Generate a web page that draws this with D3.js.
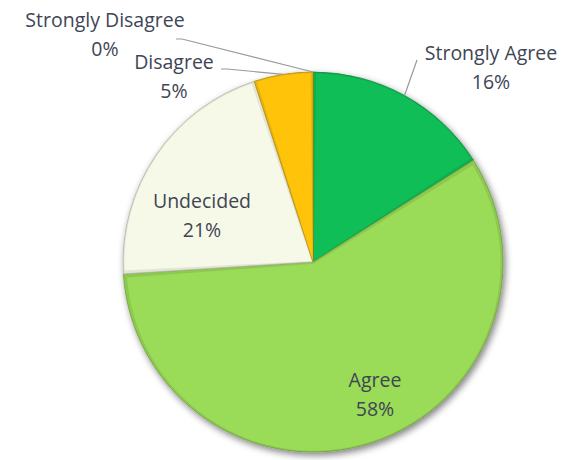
<!DOCTYPE html>
<html><head><meta charset="utf-8">
<script src="https://cdn.jsdelivr.net/npm/d3@7"></script>
<style>
html,body{margin:0;padding:0;background:#fff;}
svg{display:block;}
text{font-family:"Open Sans","Lato",sans-serif;fill:#3e4555;}
</style></head>
<body>
<svg id="chart" width="569" height="460"></svg>
<script>
// ---- data ----
const categories = ["Strongly Agree", "Agree", "Undecided", "Disagree", "Strongly Disagree"];
const values = [16, 58, 21, 5, 0];
const percentLabels = ["16%", "58%", "21%", "5%", "0%"];
const colors = ["#10BE57", "#9ADB57", "#F7F9E8", "#FFC409", "#7F7F7F"];

// ---- layout ----
const cx = 313, cy = 262, R = 190;
const labelLayout = [
  {x: 491, y: 60, leader: true, elbow: [417, 60]},
  {x: 375, y: 387, leader: false},
  {x: 202, y: 208, leader: false},
  {x: 174, y: 69, leader: true, elbow: [221, 69], textEnd: true},
  {x: 105, y: 27, leader: true, elbow: [176, 39], textEnd: true}
];
const lineGap = 29;

const svg = d3.select("#chart");
const defs = svg.append("defs");

const shadow = defs.append("filter").attr("id","shadow")
  .attr("x","-20%").attr("y","-20%").attr("width","140%").attr("height","140%");
shadow.append("feGaussianBlur").attr("in","SourceAlpha").attr("stdDeviation",3.5).attr("result","b");
shadow.append("feOffset").attr("in","b").attr("dx",2).attr("dy",3).attr("result","o");
shadow.append("feComponentTransfer").attr("in","o").attr("result","s")
  .append("feFuncA").attr("type","linear").attr("slope",0.5);
const sm = shadow.append("feMerge");
sm.append("feMergeNode").attr("in","s");
sm.append("feMergeNode").attr("in","SourceGraphic");

const data = categories.map((c,i)=>({cat:c, value:values[i], pct:percentLabels[i], color:colors[i], i}));
const pie = d3.pie().sort(null).value(d=>d.value).startAngle(0).endAngle(2*Math.PI);
const arcs = pie(data);
const arc = d3.arc().innerRadius(0).outerRadius(R);
const arcInner = d3.arc().innerRadius(0).outerRadius(R - 3);

const g = svg.append("g").attr("transform",`translate(${cx},${cy})`).attr("filter","url(#shadow)");
const shown = arcs.filter(a=>a.data.value>0);
g.selectAll("path.slice").data(shown).join("path")
  .attr("class","slice")
  .attr("d",arc)
  .attr("fill",d=>d3.color(d.data.color).darker(0.25))
  .attr("stroke",d=>d3.color(d.data.color).darker(0.9))
  .attr("stroke-width",0.8);
// subtle bevel: inner lighter body
const g2 = svg.append("g").attr("transform",`translate(${cx},${cy})`);
g2.selectAll("path.inner").data(shown).join("path")
  .attr("class","inner")
  .attr("d",d=>{
    const pad = 2.2 / (R*0.5);
    return arcInner({startAngle:d.startAngle+pad*0.5, endAngle:d.endAngle-pad*0.5});
  })
  .attr("transform",d=>{
    const mid=(d.startAngle+d.endAngle)/2;
    return `translate(${1.8*Math.sin(mid)},${-1.8*Math.cos(mid)})`;
  })
  .attr("fill",d=>d.data.color);

// leader lines
arcs.forEach((a,i)=>{
  const L = labelLayout[i];
  if(!L.leader) return;
  const mid = (a.startAngle + a.endAngle)/2;
  const px = cx + R*Math.sin(mid), py = cy - R*Math.cos(mid);
  svg.append("polyline")
    .attr("points", `${L.elbow[0]},${L.elbow[1]} ${L.elbow[0] + (L.textEnd?6:0)},${L.elbow[1]} ${px},${py}`)
    .attr("fill","none").attr("stroke","#999aa0").attr("stroke-width",1.2);
});

// labels
arcs.forEach((a,i)=>{
  const L = labelLayout[i];
  const t = svg.append("text").attr("text-anchor","middle").attr("font-size",19.5);
  t.append("tspan").attr("x",L.x).attr("y",L.y).text(a.data.cat);
  t.append("tspan").attr("x",L.x).attr("y",L.y+lineGap).text(a.data.pct);
});
</script>
</body></html>
